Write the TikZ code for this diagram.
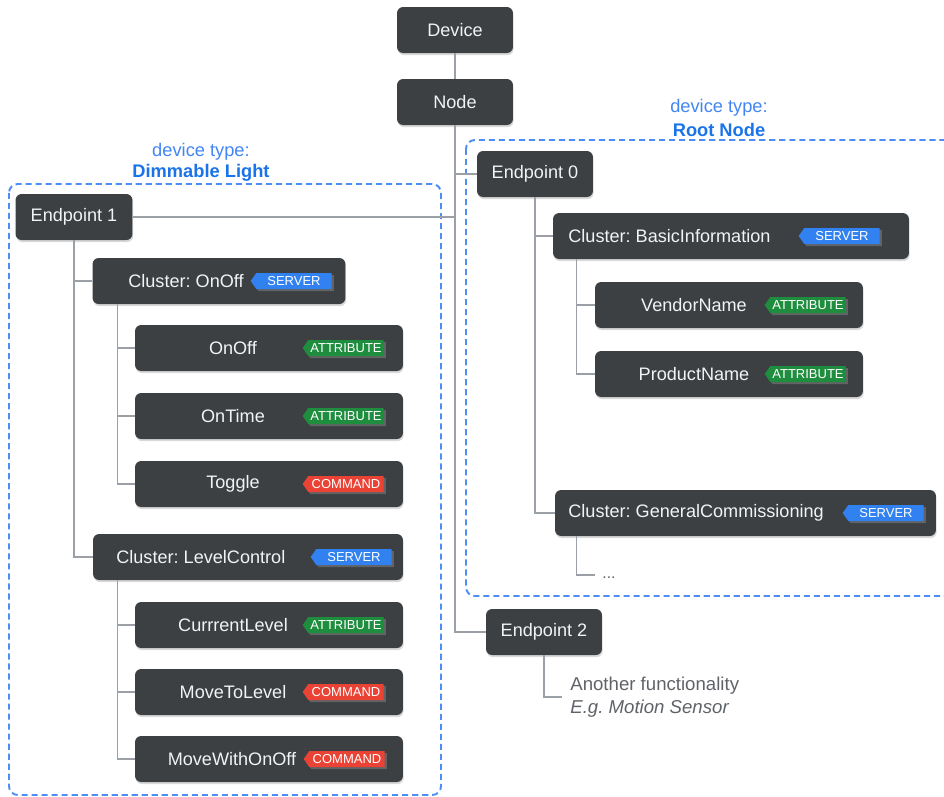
\documentclass[tikz,border=0pt]{standalone}
\usepackage{fontspec}
\setmainfont{Liberation Sans}
\usetikzlibrary{shapes.symbols,shadows}
\frenchspacing

\definecolor{boxgray}{HTML}{3C4043}
\definecolor{boxtext}{HTML}{F1F3F4}
\definecolor{linegray}{HTML}{9AA0A6}
\definecolor{groupblue}{HTML}{4C8DF6}
\definecolor{typeblue}{HTML}{4285F4}
\definecolor{typedark}{HTML}{1A73E8}
\definecolor{tagblue}{HTML}{3182F0}
\definecolor{taggreen}{HTML}{1E8E3E}
\definecolor{tagred}{HTML}{EA4335}
\definecolor{notegray}{HTML}{5F6368}

\tikzset{
  box/.style={fill=boxgray,rounded corners=3.5pt,minimum height=0.92cm,inner sep=0pt,
    text=boxtext,font=\fontsize{10.3}{12}\selectfont,
    drop shadow={shadow xshift=0.4pt,shadow yshift=-1.2pt,opacity=0.3}},
  lbl/.style={text=boxtext,font=\fontsize{10.3}{12}\selectfont,inner sep=0pt},
  tag/.style={signal,signal to=west,signal pointer angle=110,minimum height=0.32cm,
    minimum width=1.62cm,inner sep=0pt,text=white,font=\fontsize{7.4}{8}\selectfont,
    drop shadow={shadow xshift=1.2pt,shadow yshift=-1.2pt,opacity=0.55}},
  server/.style={tag,fill=tagblue},
  attr/.style={tag,fill=taggreen},
  cmd/.style={tag,fill=tagred},
  conn/.style={draw=linegray,line width=0.6pt},
  group/.style={draw=groupblue,line width=1.1pt,dash pattern=on 3.5pt off 2.2pt,rounded corners=5pt},
  typelbl/.style={text=typeblue,font=\fontsize{10.4}{12}\selectfont,inner sep=0pt},
  typename/.style={text=typedark,font=\bfseries\fontsize{10.4}{12}\selectfont,inner sep=0pt},
}

\begin{document}
\begin{tikzpicture}
  \begin{scope}[x=0.02cm,y=-0.02cm]
    \useasboundingbox (0,0) rectangle (944,796);

    % device type groups
    \draw[group] (9,184) rectangle (441,795);
    \draw[group] (466,140) rectangle (956,596);
    \node[typelbl] (dimT) at (201,152) {device type:};
    \node[typename] (dimN) at (201,173) {Dimmable Light};
    \node[typelbl] (rootT) at (719,108) {device type:};
    \node[typename] (rootN) at (719,130) {Root Node};

    \node[box,minimum width=2.32cm] (device) at (455,30) {Device};
    \node[box,minimum width=2.32cm] (node) at (455,102) {Node};
    \node[box,minimum width=2.32cm] (ep0) at (535,174) {Endpoint 0};
    \node[box,minimum width=2.34cm] (ep1) at (74,217) {Endpoint 1};
    \node[box,minimum width=2.32cm] (ep2) at (544,632) {Endpoint 2};

    % endpoint 1
    \node[box,minimum width=5.06cm] (onoffC) at (219,281) {};
    \node[lbl,anchor=west] (onoffCL) at (128,281) {Cluster: OnOff};
    \node[server] (onoffCT) at (294,281) {SERVER};

    \node[box,minimum width=5.36cm] (onoff) at (269,348) {};
    \node[lbl] (onoffL) at (233,348) {OnOff};
    \node[attr] (onoffT) at (346,348) {ATTRIBUTE};

    \node[box,minimum width=5.36cm] (ontime) at (269,416) {};
    \node[lbl] (ontimeL) at (233,416) {OnTime};
    \node[attr] (ontimeT) at (346,416) {ATTRIBUTE};

    \node[box,minimum width=5.36cm] (toggle) at (269,484) {};
    \node[lbl] (toggleL) at (233,484) {Toggle};
    \node[cmd] (toggleT) at (346,484) {COMMAND};

    \node[box,minimum width=6.2cm] (levelC) at (248,557) {};
    \node[lbl,anchor=west] (levelCL) at (116,557) {Cluster: LevelControl};
    \node[server] (levelCT) at (354,557) {SERVER};

    \node[box,minimum width=5.36cm] (curlev) at (269,625) {};
    \node[lbl] (curlevL) at (233,625) {CurrrentLevel};
    \node[attr] (curlevT) at (346,625) {ATTRIBUTE};

    \node[box,minimum width=5.36cm] (movelev) at (269,692) {};
    \node[lbl] (movelevL) at (233,692) {MoveToLevel};
    \node[cmd] (movelevT) at (346,692) {COMMAND};

    \node[box,minimum width=5.36cm] (moveon) at (269,759) {};
    \node[lbl] (moveonL) at (232,759) {MoveWithOnOff};
    \node[cmd] (moveonT) at (347,759) {COMMAND};

    % endpoint 0
    \node[box,minimum width=7.12cm] (basicC) at (731,236) {};
    \node[lbl,anchor=west] (basicCL) at (568,236) {Cluster: BasicInformation};
    \node[server] (basicCT) at (842,236) {SERVER};

    \node[box,minimum width=5.36cm] (vendor) at (729,305) {};
    \node[lbl] (vendorL) at (694,305) {VendorName};
    \node[attr] (vendorT) at (808,305) {ATTRIBUTE};

    \node[box,minimum width=5.36cm] (product) at (729,374) {};
    \node[lbl] (productL) at (694,374) {ProductName};
    \node[attr] (productT) at (808,374) {ATTRIBUTE};

    \node[box,minimum width=7.62cm] (commC) at (745.5,513) {};
    \node[lbl,anchor=west] (commCL) at (568,513) {Cluster: GeneralCommissioning};
    \node[server] (commCT) at (886,513) {SERVER};
    \coordinate (commEnd) at (595,575);
    \node[text=notegray,font=\fontsize{9}{10}\selectfont,inner sep=0pt] (dots) at (609,578) {...};

    % endpoint 2
    \node[text=notegray,font=\fontsize{10.6}{13}\selectfont,align=left,anchor=west,inner sep=0pt]
      (other) at (570,697) {Another functionality\\\textit{E.g. Motion Sensor}};

    % connectors
    \draw[conn] (device) -- (node);
    \draw[conn] (node.south) |- (ep0.west);
    \draw[conn] (node.south) |- (ep1.east);
    \draw[conn] (node.south) |- (ep2.west);
    \draw[conn] (ep1.south) |- (onoffC.west);
    \draw[conn] (ep1.south) |- (levelC.west);
    \draw[conn] ([xshift=0.5cm]onoffC.south west) |- (onoff.west);
    \draw[conn] ([xshift=0.5cm]onoffC.south west) |- (ontime.west);
    \draw[conn] ([xshift=0.5cm]onoffC.south west) |- (toggle.west);
    \draw[conn] ([xshift=0.5cm]levelC.south west) |- (curlev.west);
    \draw[conn] ([xshift=0.5cm]levelC.south west) |- (movelev.west);
    \draw[conn] ([xshift=0.5cm]levelC.south west) |- (moveon.west);
    \draw[conn] (ep0.south) |- (basicC.west);
    \draw[conn] (ep0.south) |- (commC.west);
    \draw[conn] ([xshift=0.48cm]basicC.south west) |- (vendor.west);
    \draw[conn] ([xshift=0.48cm]basicC.south west) |- (product.west);
    \draw[conn] ([xshift=0.44cm]commC.south west) |- (commEnd);
    \draw[conn] (ep2.south) |- ([xshift=-0.16cm]other.west);
  \end{scope}
\end{tikzpicture}
\end{document}
